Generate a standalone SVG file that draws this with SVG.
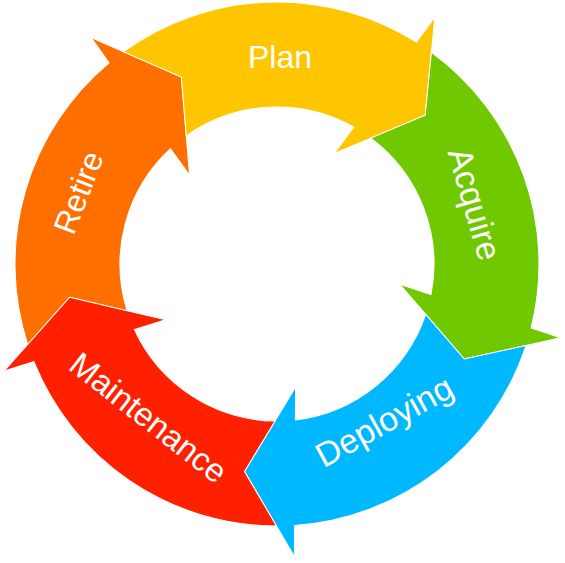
<svg xmlns="http://www.w3.org/2000/svg" xmlns:xlink="http://www.w3.org/1999/xlink" width="565" height="563" viewBox="0 0 565 563">
  <style>
    .arrow { stroke: #ffffff; stroke-width: 1; stroke-linejoin: miter; stroke-miterlimit: 10; }
    .label { fill: #ffffff; font-family: "Liberation Sans", Arial, Helvetica, sans-serif; font-size: 32px; text-anchor: middle; }
  </style>
  <defs>
    <path id="arrowShape" d="M 41.93 -258.62 A 262 262 0 0 1 255.54 -57.84 L 286.28 -62.42 L 210 0 L 118.74 -37.44 L 151.21 -42.28 A 157 157 0 0 0 26.72 -154.71 L 64.89 -199.72 Z"/>
  </defs>
  <rect width="565" height="563" fill="#ffffff"/>
  <g id="connectors"></g>
  <g id="retire">
    <use xlink:href="#arrowShape" href="#arrowShape" class="arrow" fill="#FF6F00" transform="translate(277,264) rotate(242.9)"/>
    <text class="label" transform="translate(78.5,192.5) rotate(-69)" x="0" y="11">Retire</text>
  </g>
  <g id="plan">
    <use xlink:href="#arrowShape" href="#arrowShape" class="arrow" fill="#FFC600" transform="translate(277,264) rotate(314.9)"/>
    <text class="label" transform="translate(280,56)" x="0" y="11.5">Plan</text>
  </g>
  <g id="acquire">
    <use xlink:href="#arrowShape" href="#arrowShape" class="arrow" fill="#70C800" transform="translate(277,264) rotate(26.9)"/>
    <text class="label" style="font-size:34px" transform="translate(475,204) rotate(74)" x="0" y="12">Acquire</text>
  </g>
  <g id="deploying">
    <use xlink:href="#arrowShape" href="#arrowShape" class="arrow" fill="#00B8FF" transform="translate(277,264) rotate(98.9)"/>
    <text class="label" style="font-size:34px" transform="translate(384,421) rotate(-29)" x="0" y="12">Deploying</text>
  </g>
  <g id="maintenance">
    <use xlink:href="#arrowShape" href="#arrowShape" class="arrow" fill="#FF2000" transform="translate(277,264) rotate(170.9)"/>
    <text class="label" style="font-size:33px" transform="translate(148.5,417.5) rotate(38)" x="0" y="11.5">Maintenance</text>
  </g>
</svg>
